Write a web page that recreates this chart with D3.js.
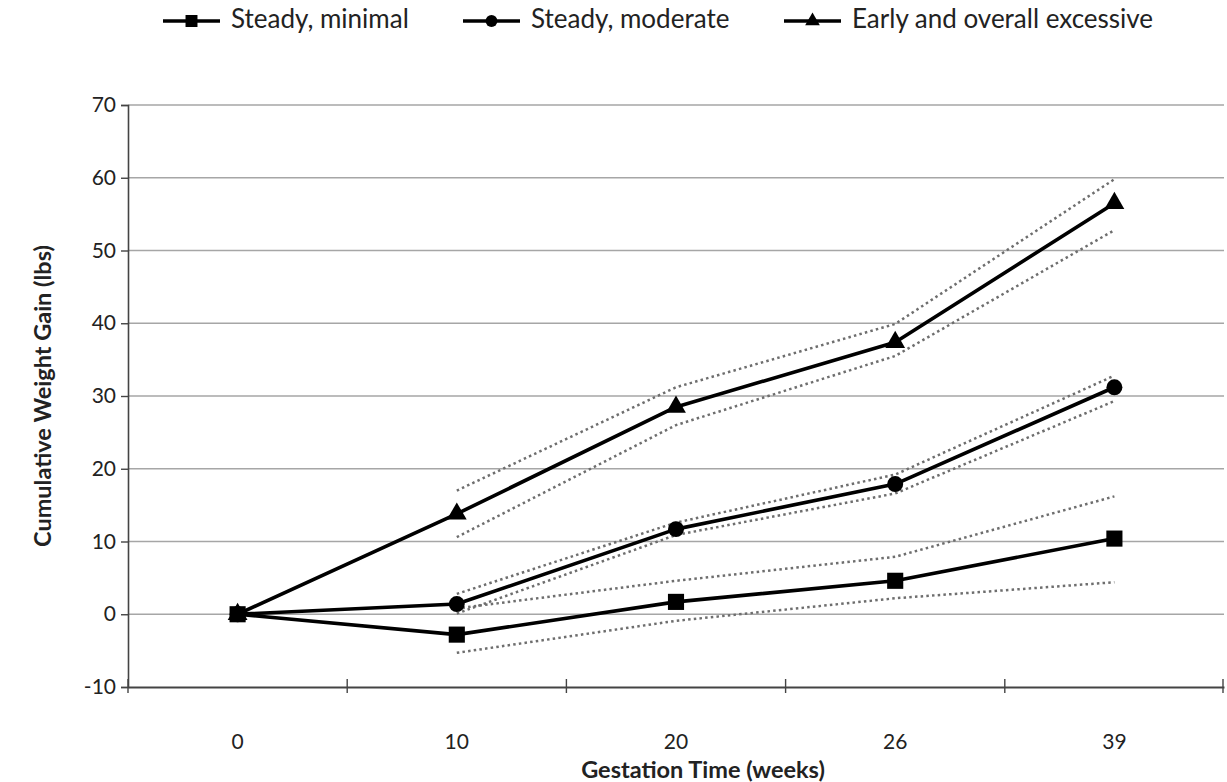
<!DOCTYPE html>
<html>
<head>
<meta charset="utf-8">
<script src="https://cdn.jsdelivr.net/npm/d3@7"></script>
<style>
  body { margin: 0; background: #fff; }
  text { font-family: Lato, "Open Sans", sans-serif; fill: #222; }
</style>
</head>
<body>
<div id="chart"></div>
<script>
(() => {
  // data
  const weeks = ["0", "10", "20", "26", "39"];
  const minimal = [0, -2.8, 1.7, 4.6, 10.4];
  const moderate = [0, 1.4, 11.7, 17.9, 31.2];
  const excessive = [0, 13.8, 28.5, 37.4, 56.5];
  // confidence bands (dotted), start at week 10
  const minimalUpper = [null, 0.8, 4.6, 7.9, 16.2];
  const minimalLower = [null, -5.3, -0.9, 2.2, 4.4];
  const moderateUpper = [null, 2.8, 12.6, 19.2, 32.8];
  const moderateLower = [null, 0.1, 10.9, 16.6, 29.3];
  const excessiveUpper = [null, 17.0, 31.2, 39.9, 59.8];
  const excessiveLower = [null, 10.6, 26.0, 35.5, 52.8];
  const yTicks = [-10, 0, 10, 20, 30, 40, 50, 60, 70];

  const width = 1227, height = 782;
  const margin = { top: 105, right: 3, bottom: 95, left: 128 };

  const svg = d3.select("#chart")
    .append("svg")
    .attr("width", width)
    .attr("height", height);

  const x = d3.scaleBand()
    .domain(weeks)
    .range([margin.left, width - margin.right])
    .padding(0);
  const y = d3.scaleLinear()
    .domain([-10, 70])
    .range([height - margin.bottom, margin.top]);
  const cx = d => x(d) + x.bandwidth() / 2;

  // gridlines
  svg.append("g")
    .selectAll("line")
    .data(yTicks.filter(d => d > -10))
    .enter().append("line")
    .attr("x1", margin.left)
    .attr("x2", width - margin.right)
    .attr("y1", d => y(d))
    .attr("y2", d => y(d))
    .attr("stroke", "#a6a6a6")
    .attr("stroke-width", 1.6);

  // y axis
  const yAxis = svg.append("g")
    .attr("transform", `translate(${margin.left},0)`)
    .call(d3.axisLeft(y).tickValues(yTicks).tickSize(7).tickPadding(5).tickFormat(d => String(d)));
  yAxis.select(".domain").attr("stroke", "#444").attr("stroke-width", 1.6);
  yAxis.selectAll(".tick line").attr("stroke", "#444").attr("stroke-width", 1.4);
  yAxis.selectAll(".tick text")
    .attr("font-size", 21)
    .attr("fill", "#333")
    .style("font-family", "Lato, sans-serif");

  // x axis: labels centred in categories, ticks at category borders
  const xAxis = svg.append("g")
    .attr("transform", `translate(0,${y(-10)})`)
    .call(d3.axisBottom(x).tickSize(0).tickPadding(47));
  xAxis.select(".domain").attr("stroke", "#444").attr("stroke-width", 1.8);
  xAxis.selectAll(".tick text")
    .attr("font-size", 21)
    .attr("fill", "#333")
    .style("font-family", "Lato, sans-serif");
  const borders = weeks.map(d => x(d)).concat([x.range()[1] - 1]);
  xAxis.selectAll(".border")
    .data(borders)
    .enter().append("line")
    .attr("class", "border")
    .attr("x1", d => d).attr("x2", d => d)
    .attr("y1", -8).attr("y2", 6)
    .attr("stroke", "#444")
    .attr("stroke-width", 1.4);

  // axis titles
  svg.append("text")
    .attr("transform", `translate(45,${(y(70) + y(-10)) / 2}) rotate(-90)`)
    .attr("text-anchor", "middle")
    .attr("dominant-baseline", "middle")
    .attr("font-size", 23.5)
    .attr("font-weight", "bold")
    .text("Cumulative Weight Gain (lbs)");
  svg.append("text")
    .attr("x", 703)
    .attr("y", 772)
    .attr("text-anchor", "middle")
    .attr("dominant-baseline", "middle")
    .attr("font-size", 23.5)
    .attr("font-weight", "bold")
    .text("Gestation Time (weeks)");

  const line = d3.line()
    .defined(d => d.v !== null)
    .x(d => cx(d.w))
    .y(d => y(d.v));
  const toPts = arr => arr.map((v, i) => ({ w: weeks[i], v }));

  // dotted confidence lines
  const bands = [minimalUpper, minimalLower, moderateUpper, moderateLower, excessiveUpper, excessiveLower];
  svg.append("g")
    .selectAll("path")
    .data(bands)
    .enter().append("path")
    .attr("d", d => line(toPts(d)))
    .attr("fill", "none")
    .attr("stroke", "#6e6e6e")
    .attr("stroke-width", 2.5)
    .attr("stroke-dasharray", "2.5,3.2");

  const series = [
    { name: "Steady, minimal", values: minimal, symbol: d3.symbolSquare, size: 260 },
    { name: "Steady, moderate", values: moderate, symbol: d3.symbolCircle, size: 200 },
    { name: "Early and overall excessive", values: excessive, symbol: d3.symbolTriangle, size: 170 }
  ];

  // draw in reverse so the square ends up on top at week 0
  series.slice().reverse().forEach(s => {
    svg.append("path")
      .attr("d", line(toPts(s.values)))
      .attr("fill", "none")
      .attr("stroke", "#000")
      .attr("stroke-width", 3.6)
      .attr("stroke-linejoin", "round");
    svg.append("g")
      .selectAll("path")
      .data(toPts(s.values))
      .enter().append("path")
      .attr("transform", d => `translate(${cx(d.w)},${y(d.v)})`)
      .attr("d", d3.symbol().type(s.symbol).size(s.size))
      .attr("fill", "#000");
  });

  // legend
  const legendX = [163, 463, 784];
  const legend = svg.append("g").attr("transform", "translate(0,21)");
  series.forEach((s, i) => {
    const g = legend.append("g").attr("transform", `translate(${legendX[i]},0)`);
    g.append("line")
      .attr("x1", 0).attr("x2", 57)
      .attr("stroke", "#000").attr("stroke-width", 3.6);
    g.append("path")
      .attr("transform", "translate(28.5,0)")
      .attr("d", d3.symbol().type(s.symbol).size(s.size * 0.55))
      .attr("fill", "#000");
    g.append("text")
      .attr("x", 68)
      .attr("dominant-baseline", "middle")
      .attr("font-size", 26)
      .text(s.name);
  });
})();
</script>
</body>
</html>
